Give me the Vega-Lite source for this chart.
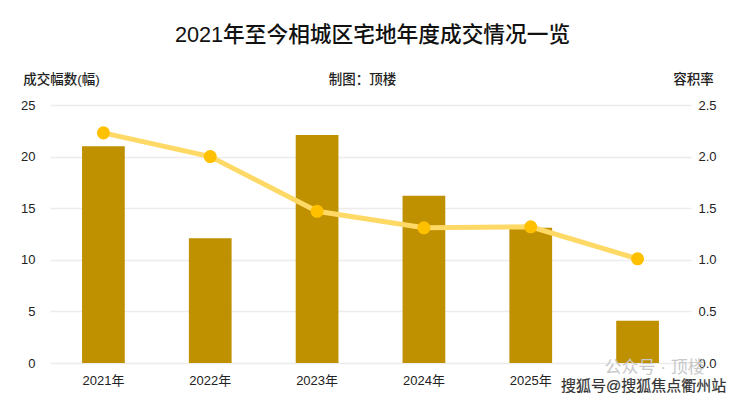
{
"$schema":"https://vega.github.io/schema/vega-lite/v6.json",
"width":641,"height":258,
"autosize":{"type":"none"},
"padding":{"left":50,"top":105,"right":49,"bottom":37},
"background":"white",
"config":{"view":{"stroke":null},"font":"Liberation Sans, Noto Sans CJK SC","text":{"font":"Liberation Sans, Noto Sans CJK SC"}},
"title":{"text":"2021年至今相城区宅地年度成交情况一览","fontSize":21.7,"fontWeight":500,"color":"#111111","font":"Liberation Sans, Noto Sans CJK SC","anchor":"middle","offset":25,"dx":2,"frame":"group"},
"data":{"values":[
{"year":"2021年","count":21,"far":2.23},
{"year":"2022年","count":12.1,"far":2.0},
{"year":"2023年","count":22.1,"far":1.47},
{"year":"2024年","count":16.2,"far":1.31},
{"year":"2025年","count":13.1,"far":1.32},
{"year":"2026年","count":4.1,"far":1.01}
]},
"encoding":{"x":{"field":"year","type":"ordinal","scale":{"paddingInner":0.6,"paddingOuter":0.3},"axis":{"title":"制图：顶楼","titleX":312,"titleY":-284,"titleAlign":"center","titleBaseline":"middle","titleFontSize":13.5,"titleFontWeight":500,"titleColor":"#222222","labelAngle":0,"domain":false,"ticks":false,"labelFontSize":13,"labelColor":"#222222","labelPadding":11,"labelExpr":"datum.value == '2026年' ? '' : datum.value"}}},
"layer":[
{"mark":{"type":"bar","color":"#BF9000"},
"encoding":{"y":{"field":"count","type":"quantitative","scale":{"domain":[0,25]},"axis":{"title":"成交幅数(幅)","titleAngle":0,"titleX":11,"titleY":-26,"titleAlign":"center","titleBaseline":"middle","titleFontSize":13.5,"titleFontWeight":500,"titleColor":"#222222","values":[0,5,10,15,20,25],"domain":false,"ticks":false,"labelFontSize":13,"labelColor":"#222222","labelPadding":15,"grid":true,"gridColor":"#ececec","gridWidth":1.5}}}},
{"mark":{"type":"line","color":"#FFD966","strokeWidth":5},
"encoding":{"y":{"field":"far","type":"quantitative","scale":{"domain":[0,2.5]},"axis":{"title":"容积率","orient":"right","titleAngle":0,"titleX":2,"titleY":-26,"titleAlign":"center","titleBaseline":"middle","titleFontSize":13.5,"titleFontWeight":500,"titleColor":"#222222","format":".1f","values":[0,0.5,1,1.5,2,2.5],"domain":false,"ticks":false,"labelFontSize":13,"labelColor":"#222222","labelPadding":7,"grid":false}}}},
{"mark":{"type":"point","filled":true,"opacity":1,"color":"#FFC000","size":170},
"encoding":{"y":{"field":"far","type":"quantitative","scale":{"domain":[0,2.5]},"axis":null}}},
{"data":{"values":[{"year":"2026年","v":-0.45,"t":"公众号 · 顶楼"}]},
"mark":{"type":"text","fontSize":17,"color":"#c8c8c8","dx":17},
"encoding":{"y":{"field":"v","type":"quantitative","scale":{"domain":[0,25]},"axis":null},"text":{"field":"t"}}},
{"data":{"values":[{"year":"2026年","v":-2.25,"t":"搜狐号@搜狐焦点衢州站"}]},
"mark":{"type":"text","fontSize":15,"color":"#333333","stroke":"#333333","strokeWidth":0.2,"dx":6},
"encoding":{"y":{"field":"v","type":"quantitative","scale":{"domain":[0,25]},"axis":null},"text":{"field":"t"}}}
],
"resolve":{"scale":{"y":"independent"}}
}
